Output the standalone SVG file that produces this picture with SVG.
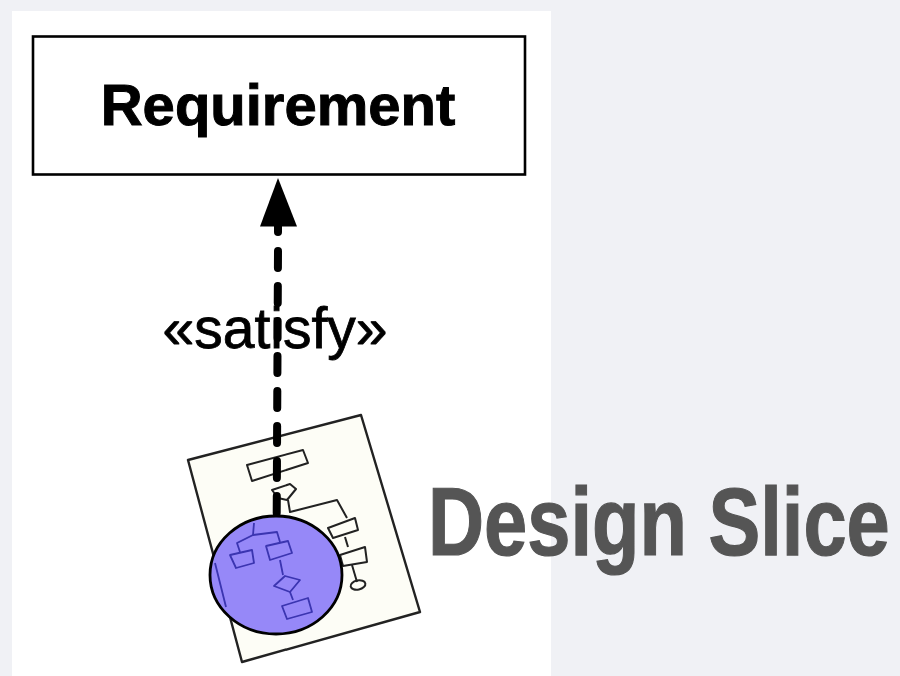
<svg xmlns="http://www.w3.org/2000/svg" width="900" height="676" viewBox="0 0 900 676">
<style>
.sans{font-family:"Liberation Sans",Arial,sans-serif}
.flow{fill:none;stroke:#222;stroke-width:2;stroke-linejoin:round}
.inner{fill:none;stroke:#3a34b0;stroke-width:1.800;stroke-linejoin:round}
</style>
<defs>
<filter id="soft" filterUnits="userSpaceOnUse" x="0" y="0" width="900" height="676"><feGaussianBlur stdDeviation="0.65"/></filter>
</defs>
<rect width="900" height="676" fill="#f0f1f5"/>
<rect x="12" y="11" width="539" height="665" fill="#fff"/>
<g filter="url(#soft)">
<g id="requirement">
<rect x="33" y="36.500" width="492" height="138" fill="#fff" stroke="#000" stroke-width="2.600"/>
<text class="sans" x="278" y="125" font-size="58" font-weight="700" text-anchor="middle" fill="#000" stroke="#000" stroke-width="1">Requirement</text>
</g>
<g id="design-slice">
<polygon points="188,460 361,415 420,612 242,662" fill="#fdfdf6" stroke="#222" stroke-width="2.400" stroke-linejoin="round"/>
<polygon class="flow" points="247,465 303,450 308,463 252,481"/>
<polygon class="flow" points="272,490 290,484 296,489 287,500 278,498"/>
<polyline class="flow" points="288,500 290,512 337,500 347,518"/>
<polygon class="flow" points="328,528 355,518 358,530 333,538"/>
<polyline class="flow" points="345,537 348,547"/>
<polygon class="flow" points="340,555 365,547 367,562 343,566"/>
<polyline class="flow" points="352,565 357,582"/>
<ellipse class="flow" cx="358" cy="585" rx="7.500" ry="4.500" transform="rotate(-12 358 585)"/>
<ellipse cx="276" cy="575" rx="66" ry="59" fill="#9688f8" stroke="#000" stroke-width="2.800"/>
<polyline class="inner" points="215,563 226,607"/>
<polyline class="inner" points="254,523 253,535 277,532 280,542"/>
<polyline class="inner" points="253,535 237,543 240,552"/>
<polygon class="inner" points="230,555 252,550 254,563 236,568"/>
<polygon class="inner" points="266,546 288,541 292,553 270,560"/>
<polyline class="inner" points="280,560 283,575"/>
<polygon class="inner" points="274,586 285,576 300,580 290,592"/>
<polyline class="inner" points="290,592 293,600"/>
<polygon class="inner" points="282,606 308,598 312,612 287,619"/>
</g>
<g id="connectors">
<polygon points="278,178 260,226.500 297,226.500" fill="#000"/>
<path d="M278 224V232" stroke="#000" stroke-width="8" stroke-linecap="round" fill="none"/>
<path d="M278 251L276.700 515" stroke="#000" stroke-width="8" stroke-linecap="round" stroke-dasharray="17 18" fill="none"/>
<text class="sans" x="275" y="348" font-size="57" text-anchor="middle" fill="#000" stroke="#000" stroke-width="0.800">«satisfy»</text>
</g>
</g>
<text id="title" class="sans" transform="translate(428 555) scale(0.809 1)" x="0" y="0" font-size="96" font-weight="700" fill="#555" stroke="#555" stroke-width="1.200">Design Slice</text>
</svg>
